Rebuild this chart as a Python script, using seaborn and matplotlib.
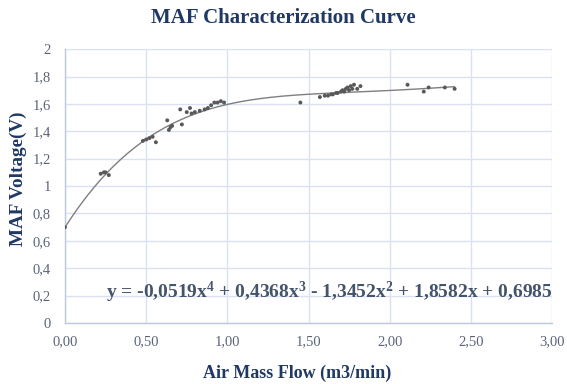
import numpy as np
import pandas as pd
import matplotlib
matplotlib.use("Agg")
import matplotlib.pyplot as plt
import seaborn as sns
from matplotlib.ticker import FuncFormatter, MultipleLocator

# Data
air_flow = [0.00, 0.22, 0.24, 0.25, 0.27,
            0.48, 0.50, 0.52, 0.54, 0.56,
            0.63, 0.64, 0.65, 0.66, 0.72,
            0.71, 0.75, 0.77, 0.78, 0.80, 0.83, 0.86, 0.88,
            0.90, 0.92, 0.94, 0.96, 0.98,
            1.45, 1.57, 1.60, 1.62, 1.64, 1.65, 1.67, 1.68, 1.70, 1.71,
            1.72, 1.73, 1.74, 1.75, 1.76, 1.77, 1.78, 1.80, 1.82,
            2.11, 2.21, 2.24, 2.34, 2.40]
voltage = [0.70, 1.09, 1.10, 1.10, 1.08,
           1.33, 1.34, 1.35, 1.36, 1.32,
           1.48, 1.41, 1.43, 1.44, 1.45,
           1.56, 1.54, 1.57, 1.53, 1.54, 1.55, 1.56, 1.57,
           1.59, 1.61, 1.61, 1.62, 1.61,
           1.61, 1.65, 1.66, 1.66, 1.67, 1.67, 1.68, 1.68, 1.69, 1.70,
           1.69, 1.71, 1.72, 1.70, 1.73, 1.71, 1.74, 1.71, 1.73,
           1.74, 1.69, 1.72, 1.72, 1.71]
coeffs = [-0.0519, 0.4368, -1.3452, 1.8582, 0.6985]
equation = "y = -0,0519x$^4$ + 0,4368x$^3$ - 1,3452x$^2$ + 1,8582x + 0,6985"
title = "MAF Characterization Curve"
xlabel = "Air Mass Flow (m3/min)"
ylabel = "MAF Voltage(V)"

sns.set_style("white")
plt.rcParams['font.family'] = ['Liberation Serif', 'DejaVu Serif']
plt.rcParams['mathtext.fontset'] = 'custom'
plt.rcParams['mathtext.rm'] = 'Liberation Serif:bold'
plt.rcParams['mathtext.it'] = 'Liberation Serif:bold'
plt.rcParams['mathtext.bf'] = 'Liberation Serif:bold'

navy = "#1F3864"
grid_c = "#D9E2F3"

fig = plt.figure(figsize=(5.67, 3.84), dpi=100)
ax = fig.add_axes([0.1146, 0.159, 0.859, 0.713])

df = pd.DataFrame({"x": air_flow, "y": voltage})
xs = np.linspace(0, max(air_flow), 200)
curve = pd.DataFrame({"x": xs, "y": np.polyval(coeffs, xs)})

sns.lineplot(data=curve, x="x", y="y", ax=ax, color="#7F7F7F", linewidth=1.0)
sns.scatterplot(data=df, x="x", y="y", ax=ax, color="#595959", s=8,
                edgecolor="none", zorder=3)

ax.set_xlim(0, 3)
ax.set_ylim(0, 2)
ax.xaxis.set_major_locator(MultipleLocator(0.5))
ax.yaxis.set_major_locator(MultipleLocator(0.2))
ax.xaxis.set_major_formatter(FuncFormatter(lambda v, p: f"{v:.2f}".replace(".", ",")))

def yfmt(v, p):
    s = f"{v:.1f}"
    if s.endswith(".0"):
        s = s[:-2]
    return s.replace(".", ",")
ax.yaxis.set_major_formatter(FuncFormatter(yfmt))

ax.grid(True, color=grid_c, linewidth=1.0)
ax.set_axisbelow(True)
for s in ["top", "right"]:
    ax.spines[s].set_visible(False)
for s in ["left", "bottom"]:
    ax.spines[s].set_color("#BFC9DC")
    ax.spines[s].set_linewidth(1.0)
ax.tick_params(axis="both", length=0, labelsize=10.5, labelcolor="#5A6478")
ax.tick_params(axis="x", pad=9)
ax.tick_params(axis="y", pad=10)

ax.set_xlabel(xlabel, fontsize=13, fontweight="bold", color=navy)
ax.xaxis.set_label_coords((297.5 - 65) / 487, -42 / 274, transform=ax.transAxes)
ax.set_ylabel(ylabel, fontsize=13.8, fontweight="bold", color=navy)
ax.yaxis.set_label_coords(-38 / 487, (323 - 178.5) / 274, transform=ax.transAxes)
fig.text(0.5, 0.953, title, ha="center", va="center", fontsize=15,
         fontweight="bold", color=navy)
ax.text(0.25, 0.22, equation, transform=ax.transData,
        fontsize=14, fontweight="bold", color="#44546A", va="center")

fig.savefig("out.png", dpi=100)
